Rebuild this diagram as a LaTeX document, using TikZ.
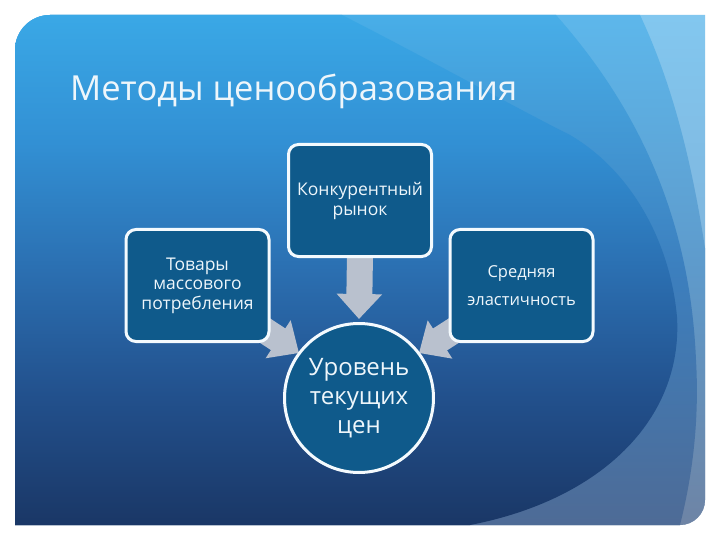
\documentclass[tikz,border=0pt]{standalone}
\usepackage{fontspec}
\setmainfont{Open Sans}
\usetikzlibrary{arrows.meta,calc}
\pgfdeclarelayer{back}
\pgfdeclarelayer{mid}
\pgfsetlayers{back,mid,main}
\definecolor{boxfill}{HTML}{0F5A8B}
\definecolor{txt}{HTML}{EEF6FB}
\definecolor{arrowc}{HTML}{B9C1CE}
\definecolor{edge}{HTML}{F4FAFE}
\definecolor{b1}{HTML}{1A3766}
\definecolor{b2}{HTML}{22508C}
\definecolor{b3}{HTML}{2B6FB1}
\definecolor{b4}{HTML}{3290D4}
\definecolor{b5}{HTML}{3AA8E6}
\definecolor{m1}{HTML}{4E6B96}
\definecolor{m2}{HTML}{3C7FBE}
\definecolor{m3}{HTML}{48AEE8}
\definecolor{n1}{HTML}{6E84A5}
\definecolor{n2}{HTML}{5E9ACB}
\definecolor{n3}{HTML}{5DB7EB}
\definecolor{o1}{HTML}{8AA0BC}
\definecolor{o2}{HTML}{7FB4DC}
\definecolor{o3}{HTML}{82C7EF}
\pgfdeclareverticalshading{bulbsh}{100bp}{color(0bp)=(b1); color(25bp)=(b1); color(37.5bp)=(b2); color(50bp)=(b3); color(62.5bp)=(b4); color(75bp)=(b5); color(100bp)=(b5)}
\pgfdeclareverticalshading{band1sh}{100bp}{color(0bp)=(m1); color(25bp)=(m1); color(50bp)=(m2); color(75bp)=(m3); color(100bp)=(m3)}
\pgfdeclareverticalshading{band2sh}{100bp}{color(0bp)=(n1); color(25bp)=(n1); color(50bp)=(n2); color(75bp)=(n3); color(100bp)=(n3)}
\pgfdeclareverticalshading{outersh}{100bp}{color(0bp)=(o1); color(25bp)=(o1); color(50bp)=(o2); color(75bp)=(o3); color(100bp)=(o3)}
\begin{document}
\begin{tikzpicture}[x=1pt,y=-1pt,
  box/.style={draw=edge, line width=3pt, fill=boxfill, rounded corners=10pt,
    minimum width=143pt, minimum height=112pt, text=txt, align=center, inner sep=2pt},
  roundnode/.style={circle, draw=edge, line width=3pt, fill=boxfill,
    minimum size=149pt, text=txt, align=center, inner sep=0pt},
  blockarrow/.style={draw=arrowc, line width=26pt, -{Triangle[width=44pt,length=25pt]}}]
\useasboundingbox (0,0) rectangle (720,540);
\begin{pgfonlayer}{back}
\fill[white] (0,0) rectangle (720,540);
\begin{scope}
  \clip (15,50) .. controls (15,30.7) and (30.7,15) .. (50,15) -- (705,15) -- (705,500)
    .. controls (705,513.8) and (693.8,525) .. (680,525) -- (15,525) -- cycle;
  \shade[shading=outersh] (15,15) rectangle (705,525);
  \begin{scope}
    \clip (0,0) -- (635,0) -- (640,15) .. controls (680,100) and (700,200) .. (712,300) -- (720,540) -- (0,540) -- cycle;
    \shade[shading=band2sh] (15,15) rectangle (705,525);
  \end{scope}
  \begin{scope}
    \clip (0,0) -- (553,0) -- (556,15) .. controls (640,110) and (690,220) .. (696,360)
      .. controls (700,430) and (690,490) .. (676,540) -- (0,540) -- cycle;
    \shade[shading=band1sh] (15,15) rectangle (705,525);
  \end{scope}
  \begin{scope}
    \clip (0,0) -- (340,0) -- (342,15) .. controls (430,60) and (520,110) .. (570,135)
      .. controls (630,170) and (670,240) .. (677,317)
      .. controls (683,420) and (600,500) .. (470,525) -- (460,540) -- (0,540) -- cycle;
    \shade[shading=bulbsh] (15,15) rectangle (705,525);
  \end{scope}
\end{scope}
\end{pgfonlayer}

\node[anchor=base west, text=txt, font=\fontsize{34.5}{40}\selectfont, inner sep=0pt] (title) at (70,101) {Методы ценообразования};

\node[box, font=\fontsize{17.5}{20}\selectfont] (top) at (360,200.5) {Конкурентный\\рынок};
\node[box, font=\fontsize{17.5}{19.5}\selectfont] (left) at (197.5,285.5) {Товары\\массового\\потребления};
\node[box, font=\fontsize{16.5}{28}\selectfont] (right) at (521.5,285.5) {Средняя\\эластичность};
\node[roundnode, font=\fontsize{24}{29}\selectfont] (circ) at (359,398) {Уровень\\текущих\\цен};

\coordinate (ds) at ($(top.south)+(0,-4)$);
\coordinate (dt) at ($(circ.north)+(0,-3)$);
\coordinate (ls) at ($(left.south east)+(-14,-18)$);
\coordinate (lt) at ($(circ.center)+(-60,-45)$);
\coordinate (rs) at ($(right.south west)+(14,-18)$);
\coordinate (rt) at ($(circ.center)+(60,-45)$);
\begin{pgfonlayer}{mid}
\draw[blockarrow] (ds) -- (dt);
\draw[blockarrow] (ls) -- (lt);
\draw[blockarrow] (rs) -- (rt);
\end{pgfonlayer}
\end{tikzpicture}
\end{document}
